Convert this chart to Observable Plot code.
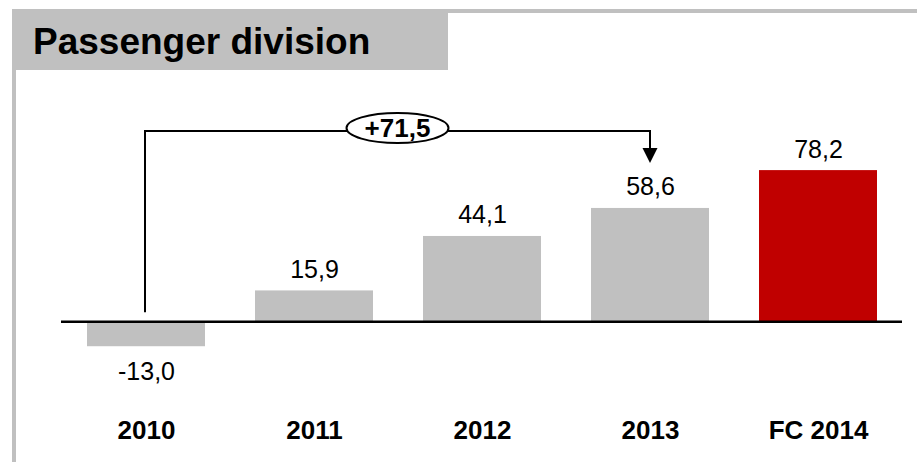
<!DOCTYPE html>
<html>
<head>
<meta charset="utf-8">
<script src="https://cdn.jsdelivr.net/npm/d3@7"></script>
<script src="https://cdn.jsdelivr.net/npm/@observablehq/plot@0.6"></script>
<style>
  html, body { margin: 0; padding: 0; background: #fff; }
  #wrap { position: relative; width: 917px; height: 462px; overflow: hidden; font-family: "Liberation Sans", Arial, sans-serif; }
  .deco { position: absolute; background: #C0C0C0; }
  #title { position: absolute; left: 33px; top: 23px; font-size: 37px; line-height: 37px; font-weight: bold; color: #000; white-space: nowrap; }
  #chart { position: absolute; left: 0; top: 0; }
</style>
</head>
<body>
<div id="wrap">
  <div class="deco" style="left:12px;top:9px;width:905px;height:4px"></div>
  <div class="deco" style="left:12px;top:9px;width:4px;height:453px"></div>
  <div class="deco" style="left:12px;top:9px;width:436px;height:61px"></div>
  <div id="title">Passenger division</div>
  <div id="chart"></div>
</div>
<script>
const categories = ["2010", "2011", "2012", "2013", "FC 2014"];
const results = [-13.0, 15.9, 44.1, 58.6, 78.2];
const deltaFrom = "2010";
const deltaTo = "2013";
const deltaLabel = "+71,5";

const fmtLocale = d3.formatLocale({decimal: ",", thousands: ".", grouping: [3], currency: ["", "€"], minus: "-"});
const fmt = fmtLocale.format(".1f");

const table = categories.map((c, i) => ({cat: c, value: results[i], forecast: i === categories.length - 1}));
const FONT = "Liberation Sans, Arial, sans-serif";

function bracket(index, scales, vals, dims) {
  const x = scales.x, y = scales.y;
  const bw = typeof x.bandwidth === "function" ? x.bandwidth() : scales.scales.x.bandwidth;
  const x1 = x(deltaFrom) + bw / 2 - 1;
  const x2 = x(deltaTo) + bw / 2;
  const level = dims.marginTop + 3;
  const yStart = y(0) - 9;
  const tip = y(results[categories.indexOf(deltaTo)]) - 45;
  const g = d3.create("svg:g");
  g.append("path")
    .attr("d", `M${x1},${yStart}V${level}H${x2}V${tip - 14}`)
    .attr("fill", "none").attr("stroke", "#000").attr("stroke-width", 2);
  g.append("path")
    .attr("d", `M${x2 - 7.5},${tip - 15}L${x2 + 7.5},${tip - 15}L${x2},${tip}Z`)
    .attr("fill", "#000");
  const cx = (x1 + x2) / 2, cy = level - 3;
  g.append("ellipse")
    .attr("cx", cx).attr("cy", cy).attr("rx", 51).attr("ry", 15)
    .attr("fill", "#fff").attr("stroke", "#000").attr("stroke-width", 2);
  g.append("text")
    .attr("x", cx).attr("y", cy).attr("dy", "0.36em")
    .attr("text-anchor", "middle")
    .attr("font-family", FONT).attr("font-size", 26).attr("font-weight", "bold")
    .attr("fill", "#000")
    .text(deltaLabel);
  return g.node();
}

const chart = Plot.plot({
  width: 917,
  height: 462,
  marginLeft: 61,
  marginRight: 15,
  marginTop: 128,
  marginBottom: 25,
  style: {fontFamily: FONT, background: "transparent", overflow: "visible"},
  x: {domain: categories, paddingInner: 0.3, paddingOuter: 0.15, label: null},
  y: {domain: [-60, 100], axis: null},
  marks: [
    Plot.barY(table, {x: "cat", y: "value", fill: d => d.forecast ? "#C00000" : "#C0C0C0"}),
    Plot.ruleY([0], {stroke: "#000", strokeWidth: 2.5}),
    Plot.text(table.filter(d => d.value >= 0), {x: "cat", y: "value", text: d => fmt(d.value), lineAnchor: "bottom", dy: -13, fontSize: 25, fill: "#000"}),
    Plot.text(table.filter(d => d.value < 0), {x: "cat", y: "value", text: d => fmt(d.value), lineAnchor: "top", dy: 16, fontSize: 25, fill: "#000"}),
    Plot.axisX({tickSize: 0, fontSize: 26, fontWeight: "bold", dy: -26, label: null, fill: "#000"}),
    bracket
  ]
});
document.getElementById("chart").appendChild(chart);
</script>
</body>
</html>
